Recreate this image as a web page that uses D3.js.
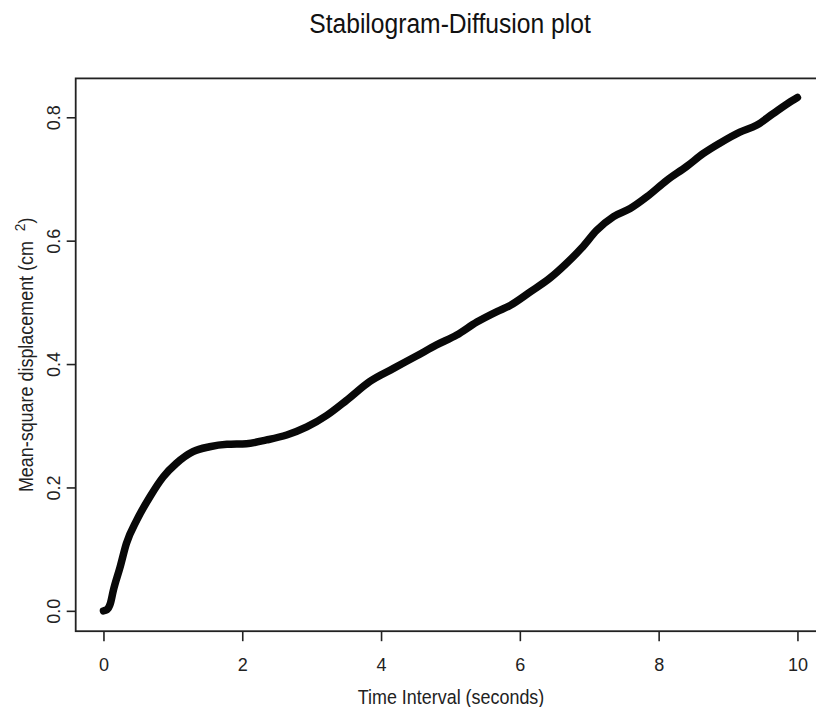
<!DOCTYPE html>
<html>
<head>
<meta charset="utf-8">
<script src="https://cdn.jsdelivr.net/npm/d3@7"></script>
<style>
  body { margin: 0; background: #fff; }
  svg { display: block; font-family: "Liberation Sans", Arial, sans-serif; }
</style>
</head>
<body>
<div id="chart"></div>
<script>
// values
const timeInterval = [0, 0.05, 0.1, 0.14, 0.24, 0.33, 0.48, 0.67, 0.86, 1.05, 1.29, 1.53, 1.78, 2.06, 2.35, 2.64, 2.93, 3.22, 3.5,
    3.84, 4.18, 4.51, 4.8, 5.09, 5.38, 5.67, 5.86, 6.15, 6.43, 6.67, 6.89, 7.11, 7.35, 7.59, 7.83, 8.12, 8.4, 8.64, 8.88,
    9.17, 9.41, 9.65, 9.94, 10];
const msd = [0, 0.002, 0.012, 0.032, 0.071, 0.109, 0.147, 0.185, 0.217, 0.239, 0.258, 0.266, 0.27, 0.271, 0.277, 0.285, 0.298, 0.317, 0.341,
    0.372, 0.393, 0.413, 0.431, 0.447, 0.468, 0.485, 0.495, 0.517, 0.539, 0.563, 0.588, 0.617, 0.639, 0.652, 0.671, 0.698, 0.72, 0.741, 0.758,
    0.776, 0.787, 0.806, 0.828, 0.832];
const xTicks = [0, 2, 4, 6, 8, 10];
const yTicks = [0, 0.2, 0.4, 0.6, 0.8];

const width = 816;
const height = 707;

const svg = d3.select('#chart').append('svg')
    .attr('width', width)
    .attr('height', height);

// R-style 4% padding around the data range
const x = d3.scaleLinear().domain([-0.4, 10.4]).range([75.7, 825.2]);
const y = d3.scaleLinear().domain([-0.033, 0.863]).range([631.2, 78.4]);

const points = timeInterval.map((t, i) => [t, msd[i]]);

// plot box (right side falls outside the picture)
svg.append('rect')
    .attr('x', x.range()[0])
    .attr('y', y.range()[1])
    .attr('width', x.range()[1] - x.range()[0])
    .attr('height', y.range()[0] - y.range()[1])
    .attr('fill', 'none')
    .attr('stroke', '#222')
    .attr('stroke-width', 1.8);

const xAxis = svg.append('g')
    .attr('transform', `translate(0,${y.range()[0]})`)
    .call(d3.axisBottom(x).tickValues(xTicks).tickSize(10).tickPadding(17).tickFormat(d3.format('d')));

const yAxis = svg.append('g')
    .attr('transform', `translate(${x.range()[0]},0)`)
    .call(d3.axisLeft(y).tickValues(yTicks).tickSize(9).tickFormat(d3.format('.1f')));

[xAxis, yAxis].forEach(g => {
    g.select('.domain').remove();
    g.selectAll('line').attr('stroke', '#222').attr('stroke-width', 1.6);
    g.selectAll('text').attr('fill', '#222').style('font-size', '18px').style('font-family', '"Liberation Sans", Arial, sans-serif');
});

// y tick labels run along the axis, like R
yAxis.selectAll('.tick text')
    .attr('x', null).attr('dy', null)
    .attr('text-anchor', 'middle')
    .attr('transform', 'translate(-16,0) rotate(-90)');

svg.append('path')
    .datum(points)
    .attr('fill', 'none')
    .attr('stroke', '#080808')
    .attr('stroke-width', 7.5)
    .attr('stroke-linecap', 'round')
    .attr('stroke-linejoin', 'round')
    .attr('d', d3.line()
        .x(d => x(d[0]))
        .y(d => y(d[1]))
        .curve(d3.curveMonotoneX));

// titles (the scan's font is a bit narrower than Liberation Sans)
svg.append('text')
    .attr('transform', 'translate(450,33) scale(0.88,1)')
    .attr('text-anchor', 'middle')
    .attr('fill', '#111')
    .style('font-size', '28px')
    .text('Stabilogram-Diffusion plot');

svg.append('text')
    .attr('transform', 'translate(451,704) scale(0.92,1)')
    .attr('text-anchor', 'middle')
    .attr('fill', '#222')
    .style('font-size', '19.5px')
    .text('Time Interval (seconds)');

const yTitle = svg.append('text')
    .attr('transform', `translate(33,${(y.range()[0] + y.range()[1]) / 2}) rotate(-90) scale(0.92,1)`)
    .attr('text-anchor', 'middle')
    .attr('fill', '#222')
    .style('font-size', '19.5px');
yTitle.append('tspan').text('Mean-square displacement (cm\u00a0\u00a0');
yTitle.append('tspan').attr('dy', -8).style('font-size', '15px').text('2');
yTitle.append('tspan').attr('dy', 8).text(')');
</script>
</body>
</html>
